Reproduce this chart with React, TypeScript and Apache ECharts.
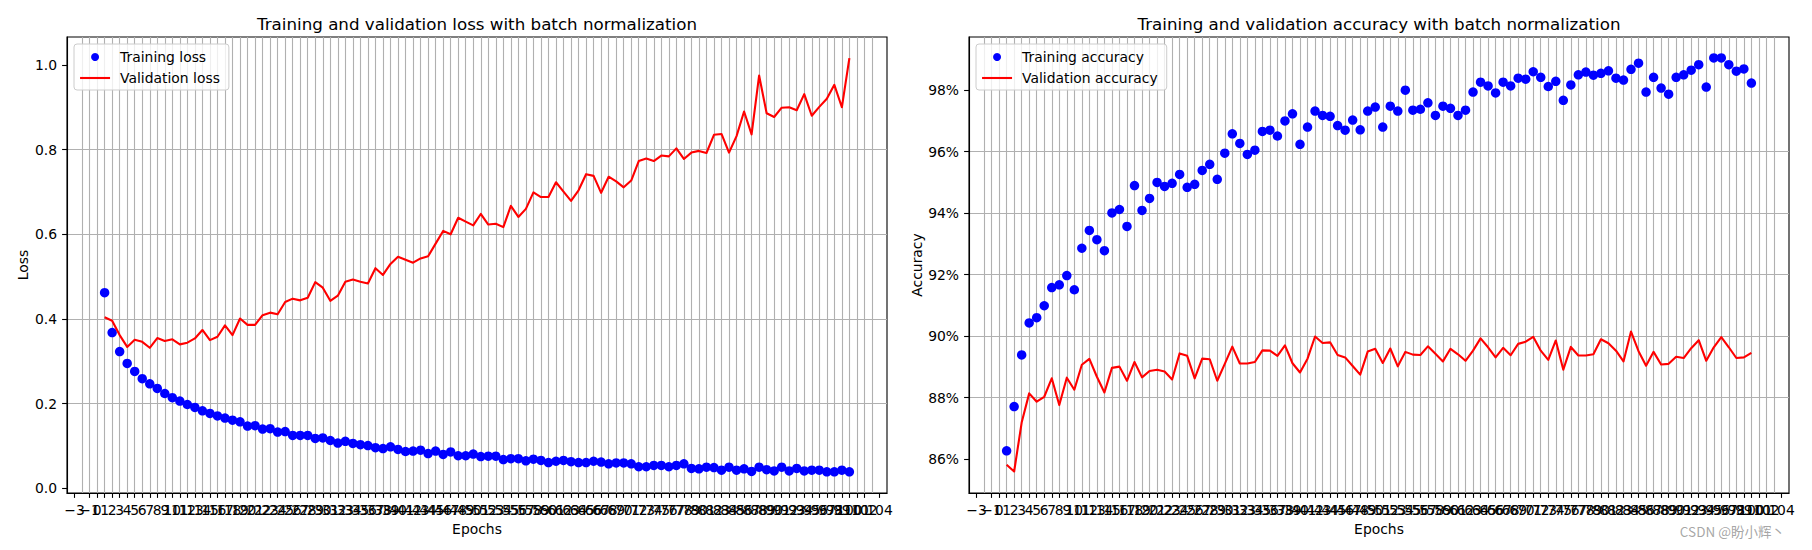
import React, { useEffect, useRef } from 'react';
import * as echarts from 'echarts';

const epochs: number[] = [];
for (let e = 1; e <= 100; e++) epochs.push(e);

const trainLoss = [
  0.462, 0.368, 0.323, 0.295, 0.276, 0.259, 0.247, 0.236, 0.224, 0.214,
  0.206, 0.198, 0.191, 0.183, 0.177, 0.171, 0.166, 0.161, 0.157, 0.147,
  0.148, 0.140, 0.141, 0.133, 0.134, 0.125, 0.125, 0.125, 0.118, 0.119,
  0.113, 0.107, 0.111, 0.106, 0.103, 0.101, 0.096, 0.094, 0.098, 0.092,
  0.087, 0.088, 0.090, 0.082, 0.088, 0.080, 0.086, 0.077, 0.077, 0.081,
  0.075, 0.076, 0.076, 0.068, 0.070, 0.070, 0.065, 0.069, 0.066, 0.061,
  0.064, 0.066, 0.063, 0.061, 0.061, 0.064, 0.062, 0.058, 0.060, 0.060,
  0.058, 0.051, 0.051, 0.054, 0.054, 0.051, 0.054, 0.058, 0.047, 0.046,
  0.050, 0.049, 0.043, 0.050, 0.043, 0.046, 0.040, 0.050, 0.044, 0.041,
  0.050, 0.041, 0.047, 0.041, 0.043, 0.043, 0.039, 0.039, 0.043, 0.039,
];

const valLoss = [
  0.404, 0.396, 0.362, 0.334, 0.351, 0.346, 0.332, 0.355, 0.348, 0.352,
  0.340, 0.344, 0.354, 0.374, 0.350, 0.358, 0.385, 0.362, 0.401, 0.386,
  0.386, 0.409, 0.415, 0.411, 0.440, 0.448, 0.444, 0.450, 0.487, 0.474,
  0.443, 0.455, 0.488, 0.493, 0.488, 0.484, 0.520, 0.504, 0.530, 0.547,
  0.540, 0.533, 0.543, 0.548, 0.578, 0.608, 0.600, 0.639, 0.630, 0.621,
  0.648, 0.623, 0.625, 0.617, 0.667, 0.641, 0.660, 0.699, 0.688, 0.688,
  0.723, 0.701, 0.679, 0.704, 0.742, 0.738, 0.698, 0.736, 0.725, 0.711,
  0.727, 0.773, 0.779, 0.773, 0.786, 0.784, 0.803, 0.778, 0.793, 0.797,
  0.792, 0.835, 0.837, 0.793, 0.832, 0.890, 0.836, 0.975, 0.886, 0.877,
  0.899, 0.900, 0.893, 0.931, 0.880, 0.901, 0.920, 0.953, 0.900, 1.016,
];

const trainAcc = [
  86.27, 87.71, 89.39, 90.43, 90.60, 90.99, 91.58, 91.67, 91.97, 91.51,
  92.86, 93.44, 93.14, 92.78, 94.01, 94.12, 93.57, 94.90, 94.09, 94.48,
  95.00, 94.87, 94.97, 95.26, 94.84, 94.94, 95.39, 95.59, 95.10, 95.95,
  96.58, 96.27, 95.91, 96.05, 96.66, 96.70, 96.51, 97.00, 97.23, 96.24,
  96.80, 97.32, 97.18, 97.15, 96.85, 96.70, 97.03, 96.71, 97.32, 97.45,
  96.80, 97.48, 97.32, 98.00, 97.35, 97.38, 97.59, 97.18, 97.48, 97.41,
  97.18, 97.35, 97.94, 98.26, 98.14, 97.91, 98.26, 98.14, 98.39, 98.36,
  98.60, 98.42, 98.12, 98.29, 97.67, 98.17, 98.50, 98.59, 98.49, 98.55,
  98.63, 98.39, 98.33, 98.68, 98.88, 97.94, 98.42, 98.07, 97.87, 98.42,
  98.50, 98.65, 98.83, 98.10, 99.05, 99.05, 98.83, 98.62, 98.69, 98.23,
];

const valAcc = [
  85.82, 85.60, 87.19, 88.14, 87.87, 88.03, 88.63, 87.76, 88.65, 88.26,
  89.07, 89.26, 88.68, 88.17, 88.97, 89.01, 88.55, 89.16, 88.66, 88.87,
  88.91, 88.85, 88.59, 89.44, 89.36, 88.63, 89.27, 89.25, 88.55, 89.10,
  89.66, 89.11, 89.11, 89.16, 89.54, 89.53, 89.36, 89.70, 89.12, 88.82,
  89.27, 89.99, 89.78, 89.80, 89.39, 89.31, 89.03, 88.75, 89.50, 89.59,
  89.13, 89.60, 89.02, 89.49, 89.40, 89.39, 89.67, 89.43, 89.18, 89.59,
  89.41, 89.20, 89.53, 89.93, 89.64, 89.31, 89.62, 89.38, 89.75, 89.82,
  89.98, 89.53, 89.23, 89.86, 88.91, 89.65, 89.37, 89.37, 89.41, 89.90,
  89.77, 89.53, 89.18, 90.15, 89.51, 89.04, 89.49, 89.08, 89.10, 89.33,
  89.29, 89.61, 89.87, 89.20, 89.64, 89.97, 89.64, 89.29, 89.31, 89.46,
];

const xTickValues: number[] = [];
for (let t = -3; t <= 104; t++) xTickValues.push(t);
const lossTicks = [0, 0.2, 0.4, 0.6, 0.8, 1.0];
const accTicks = [86, 88, 90, 92, 94, 96, 98];

const FONT = 'DejaVu Sans';
const TICK_FS = 13.9;

function xAxisFor(gridIndex: number) {
  return {
    type: 'value',
    gridIndex,
    min: -4,
    max: 105,
    interval: 1,
    name: 'Epochs',
    nameLocation: 'middle',
    nameGap: 24,
    nameTextStyle: { fontSize: TICK_FS, color: '#000', fontFamily: FONT },
    axisLine: { show: true, onZero: false, lineStyle: { color: '#000', width: 1.1 } },
    axisTick: { show: true, length: 4.9, customValues: xTickValues, lineStyle: { color: '#000', width: 1.1 } },
    axisLabel: {
      customValues: xTickValues,
      margin: 10,
      fontSize: TICK_FS,
      color: '#000',
      fontFamily: FONT,
      hideOverlap: false,
      showMinLabel: true,
      showMaxLabel: true,
      formatter: (v: number) => (v < 0 ? '\u2212' + String(-v) : String(v)),
    },
    splitLine: { show: true, showMinLine: false, showMaxLine: false, lineStyle: { color: '#b0b0b0', width: 1.1 } },
  };
}

export default function App() {
  const ref = useRef<HTMLDivElement>(null);
  useEffect(() => {
    const chart = echarts.init(ref.current!, null, { renderer: 'svg' });
    const gridBase = {
      show: true,
      top: 37,
      width: 820,
      height: 456,
      borderColor: '#000',
      borderWidth: 1.1,
      backgroundColor: 'transparent',
      containLabel: false,
      outerBoundsMode: 'none',
    };
    const legendBase = {
      orient: 'vertical',
      top: 44,
      itemWidth: 30,
      itemHeight: 8,
      itemGap: 5,
      padding: [5, 9, 4, 5],
      backgroundColor: 'rgba(255,255,255,0.8)',
      borderColor: '#cccccc',
      borderWidth: 1,
      borderRadius: 3,
      selectedMode: false,
      textStyle: { fontSize: TICK_FS, color: '#000', fontFamily: FONT, lineHeight: 16, padding: [0, 0, 0, 5] },
    };
    const lineLegendItem = (name: string) => ({
      name,
      itemStyle: { opacity: 0, color: 'rgba(0,0,0,0)', borderWidth: 0 },
      lineStyle: { color: '#ff0000', width: 2.1, opacity: 1 },
    });
    const option: any = {
      animation: false,
      backgroundColor: '#ffffff',
      textStyle: { fontFamily: FONT },
      title: [
        {
          text: 'Training and validation loss with batch normalization',
          left: 477,
          top: 15,
          padding: 0,
          textAlign: 'center',
          textStyle: { fontSize: 16.7, fontWeight: 'normal', color: '#000', fontFamily: FONT },
        },
        {
          text: 'Training and validation accuracy with batch normalization',
          left: 1379,
          top: 15,
          padding: 0,
          textAlign: 'center',
          textStyle: { fontSize: 16.7, fontWeight: 'normal', color: '#000', fontFamily: FONT },
        },
      ],
      legend: [
        {
          ...legendBase,
          left: 74,
          data: [{ name: 'Training loss', icon: 'circle' }, lineLegendItem('Validation loss')],
        },
        {
          ...legendBase,
          left: 976,
          data: [{ name: 'Training accuracy', icon: 'circle' }, lineLegendItem('Validation accuracy')],
        },
      ],
      grid: [
        { ...gridBase, left: 67 },
        { ...gridBase, left: 969 },
      ],
      xAxis: [xAxisFor(0), xAxisFor(1)],
      yAxis: [
        {
          type: 'value',
          gridIndex: 0,
          min: -0.011,
          max: 1.066,
          splitNumber: 5,
          name: 'Loss',
          nameLocation: 'middle',
          nameGap: 37,
          nameTextStyle: { fontSize: TICK_FS, color: '#000', fontFamily: FONT },
          axisLine: { show: true, onZero: false, lineStyle: { color: '#000', width: 1.1 } },
          axisTick: { show: true, length: 4.9, customValues: lossTicks, lineStyle: { color: '#000', width: 1.1 } },
          axisLabel: {
            customValues: lossTicks,
            margin: 10,
            fontSize: TICK_FS,
            color: '#000',
            fontFamily: FONT,
            showMinLabel: true,
            showMaxLabel: true,
            formatter: (v: number) => v.toFixed(1),
          },
          splitLine: { show: true, showMinLine: false, showMaxLine: false, lineStyle: { color: '#b0b0b0', width: 1.1 } },
        },
        {
          type: 'value',
          gridIndex: 1,
          min: 84.9,
          max: 99.73,
          splitNumber: 7,
          name: 'Accuracy',
          nameLocation: 'middle',
          nameGap: 45,
          nameTextStyle: { fontSize: TICK_FS, color: '#000', fontFamily: FONT },
          axisLine: { show: true, onZero: false, lineStyle: { color: '#000', width: 1.1 } },
          axisTick: { show: true, length: 4.9, customValues: accTicks, lineStyle: { color: '#000', width: 1.1 } },
          axisLabel: {
            customValues: accTicks,
            margin: 10,
            fontSize: TICK_FS,
            color: '#000',
            fontFamily: FONT,
            showMinLabel: true,
            showMaxLabel: true,
            formatter: (v: number) => Math.round(v) + '%',
          },
          splitLine: { show: true, showMinLine: false, showMaxLine: false, lineStyle: { color: '#b0b0b0', width: 1.1 } },
        },
      ],
      series: [
        {
          name: 'Training loss',
          type: 'scatter',
          xAxisIndex: 0,
          yAxisIndex: 0,
          symbol: 'circle',
          symbolSize: 9.5,
          itemStyle: { color: '#0000ff', opacity: 1 },
          silent: true,
          data: epochs.map((e, i) => [e, trainLoss[i]]),
        },
        {
          name: 'Validation loss',
          type: 'line',
          xAxisIndex: 0,
          yAxisIndex: 0,
          symbol: 'none',
          showSymbol: false,
          itemStyle: { color: '#ff0000' },
          lineStyle: { color: '#ff0000', width: 2.1, join: 'round' },
          silent: true,
          data: epochs.map((e, i) => [e, valLoss[i]]),
        },
        {
          name: 'Training accuracy',
          type: 'scatter',
          xAxisIndex: 1,
          yAxisIndex: 1,
          symbol: 'circle',
          symbolSize: 9.5,
          itemStyle: { color: '#0000ff', opacity: 1 },
          silent: true,
          data: epochs.map((e, i) => [e, trainAcc[i]]),
        },
        {
          name: 'Validation accuracy',
          type: 'line',
          xAxisIndex: 1,
          yAxisIndex: 1,
          symbol: 'none',
          showSymbol: false,
          itemStyle: { color: '#ff0000' },
          lineStyle: { color: '#ff0000', width: 2.1, join: 'round' },
          silent: true,
          data: epochs.map((e, i) => [e, valAcc[i]]),
        },
      ],
      graphic: [
        {
          type: 'text',
          right: 27,
          top: 524,
          silent: true,
          style: {
            text: 'CSDN @盼小辉丶',
            fill: 'rgba(150,150,150,0.85)',
            font: '13.5px "Noto Sans CJK SC"',
          },
        },
      ],
    };
    chart.setOption(option);
    return () => chart.dispose();
  }, []);
  return (
    <div
      ref={ref}
      style={{ position: 'absolute', left: 0, top: 0, width: 1812, height: 550, background: '#fff' }}
    />
  );
}
